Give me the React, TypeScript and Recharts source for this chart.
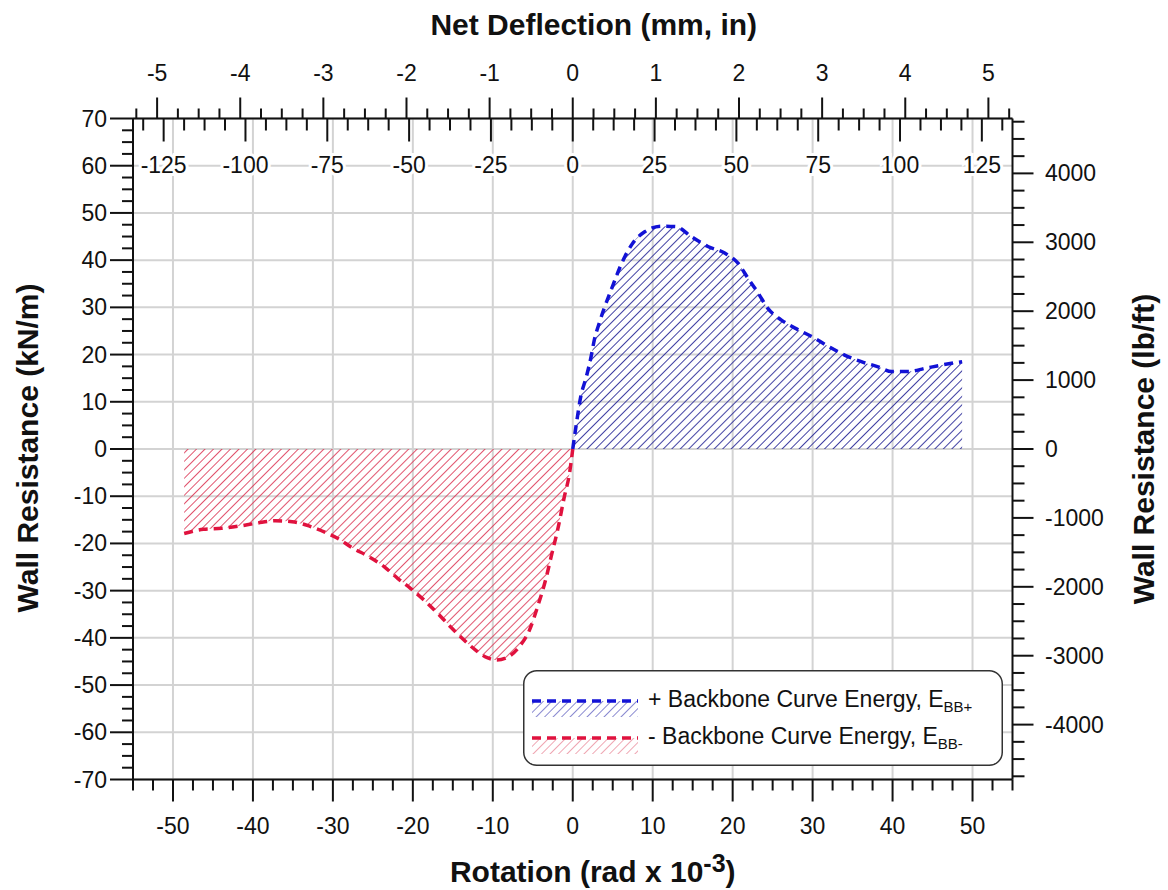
import React from "react";
import {
  ComposedChart,
  Area,
  XAxis,
  YAxis,
  CartesianGrid,
  Legend,
  Label,
} from "recharts";

// backbone curve, + side: rotation (rad x 10^-3) / wall resistance (kN/m)
const posRotation = [
  0, 0.4, 1.0, 1.7, 2.3, 2.7, 3.3, 4.0, 4.8, 6.3, 7.5, 9.0, 11.1, 12.9, 14.8,
  16.9, 19.0, 20.7, 21.9, 23.2, 24.4, 26.1, 27.8, 29.9, 32.0, 34.0, 36.1, 38.2,
  39.9, 42.0, 44.1, 46.2, 48.7,
];
const posResistance = [
  0, 4.7, 11.1, 15.3, 19.6, 23.1, 26.6, 30.1, 33.7, 40.0, 43.6, 46.0, 47.2,
  47.1, 45.0, 42.9, 41.5, 39.3, 36.2, 33.0, 29.8, 27.3, 25.6, 23.8, 21.7, 19.9,
  18.5, 17.4, 16.4, 16.4, 17.1, 17.8, 18.5,
];

// backbone curve, - side
const negRotation = [
  -48.6, -46.2, -43.9, -41.6, -39.5, -37.2, -35.1, -33.0, -30.9, -29.2, -27.6,
  -25.5, -23.6, -21.9, -20.3, -18.6, -16.9, -15.5, -14.0, -12.3, -10.7, -9.5,
  -8.4, -6.7, -5.4, -4.4, -3.3, -2.7, -1.9, -1.05, -0.4, 0,
];
const negResistance = [
  -17.9, -17.0, -16.8, -16.3, -15.7, -15.2, -15.4, -16.3, -17.7, -19.1, -20.9,
  -22.8, -24.9, -27.4, -29.5, -32.0, -34.8, -37.3, -39.8, -42.4, -44.2, -44.7,
  -44.3, -41.9, -38.3, -33.4, -27.1, -22.8, -17.2, -10.1, -5.1, 0,
];

const rotationLabels = [-50, -40, -30, -20, -10, 0, 10, 20, 30, 40, 50];
const resistanceLabels = [-70, -60, -50, -40, -30, -20, -10, 0, 10, 20, 30, 40, 50, 60, 70];
const lbftLabels = [-4000, -3000, -2000, -1000, 0, 1000, 2000, 3000, 4000];
const inchLabels = [-5, -4, -3, -2, -1, 0, 1, 2, 3, 4, 5];
const mmLabels = [-125, -100, -75, -50, -25, 0, 25, 50, 75, 100, 125];

const legendItems = [
  { name: "+ Backbone Curve Energy, E", sub: "BB+", line: "#1212d6", hatch: "hb-leg" },
  { name: "- Backbone Curve Energy, E", sub: "BB-", line: "#e0123e", hatch: "hr-leg" },
];

const KN_TO_LBFT = 68.5218;
const MM_PER_IN = 25.4;
const ROT_MAX = 55;
const KN_MAX = 70;
const IN_MAX = 5.29;

const INK = "#111";
const FONT = "'Liberation Sans', Arial, sans-serif";

const range = (a: number, b: number, step: number) =>
  Array.from({ length: Math.round((b - a) / step) + 1 }, (_, i) => +(a + i * step).toFixed(4));

const isMajor = (v: number, majors: number[]) => majors.some((m) => Math.abs(m - v) < 1e-6);

const rows = new Map<number, { rot: number; pos?: number; neg?: number }>();
negRotation.forEach((r, i) => rows.set(r, { ...(rows.get(r) ?? { rot: r }), neg: negResistance[i] }));
posRotation.forEach((r, i) => rows.set(r, { ...(rows.get(r) ?? { rot: r }), pos: posResistance[i] }));
const chartData = [...rows.values()].sort((a, b) => a.rot - b.rot);

const tickText = { fontFamily: FONT, fontSize: 23, fill: INK };

const BottomTick = ({ x = 0, y = 0, payload }: any) => {
  const v = payload.value;
  const major = isMajor(v, rotationLabels);
  return (
    <g>
      <line x1={x} x2={x} y1={y} y2={y + (major ? 22 : 11)} stroke={INK} strokeWidth={2} />
      {major && (
        <text x={x} y={y + 54} textAnchor="middle" {...tickText}>
          {v}
        </text>
      )}
    </g>
  );
};

const InchTick = ({ x = 0, y = 0, payload }: any) => {
  const v = payload.value;
  const major = isMajor(v, inchLabels);
  return (
    <g>
      <line x1={x} x2={x} y1={y} y2={y - (major ? 21 : 10)} stroke={INK} strokeWidth={2} />
      {major && (
        <text x={x} y={y - 38} textAnchor="middle" {...tickText}>
          {v}
        </text>
      )}
    </g>
  );
};

// mm ticks hang inside the plot, below the top axis line
const MmTick = ({ x = 0, y = 0, payload }: any) => {
  const v = payload.value;
  const major = isMajor(v, mmLabels);
  return (
    <g>
      <line x1={x} x2={x} y1={y} y2={y + (major ? 23 : 12)} stroke={INK} strokeWidth={2} />
      {major && (
        <text
          x={x}
          y={y + 54.5}
          textAnchor="middle"
          stroke="#fff"
          strokeWidth={6}
          paintOrder="stroke"
          {...tickText}
        >
          {v}
        </text>
      )}
    </g>
  );
};

const LeftTick = ({ x = 0, y = 0, payload }: any) => {
  const v = payload.value;
  const major = isMajor(v, resistanceLabels);
  return (
    <g>
      <line x1={x} x2={x - (major ? 23 : 11)} y1={y} y2={y} stroke={INK} strokeWidth={2} />
      {major && (
        <text x={x - 26} y={y + 8} textAnchor="end" {...tickText}>
          {v}
        </text>
      )}
    </g>
  );
};

const RightTick = ({ x = 0, y = 0, payload }: any) => {
  const v = payload.value;
  const major = isMajor(v, lbftLabels);
  return (
    <g>
      <line x1={x} x2={x + (major ? 21 : 12)} y1={y} y2={y} stroke={INK} strokeWidth={2} />
      {major && (
        <text x={x + 32.5} y={y + 8} textAnchor="start" {...tickText}>
          {v}
        </text>
      )}
    </g>
  );
};

const titleStyle = { fontFamily: FONT, fontSize: 30, fontWeight: 700, fill: INK };

const Hatch = ({ id, color, w = 1.7 }: { id: string; color: string; w?: number }) => (
  <pattern id={id} patternUnits="userSpaceOnUse" width={6} height={6} patternTransform="rotate(45)">
    <line x1={0} y1={0} x2={0} y2={6} stroke={color} strokeWidth={w} />
  </pattern>
);

const LegendBox = () => (
  <svg width={480} height={96} style={{ display: "block" }}>
    <defs>
      <Hatch id="hb-leg" color="#4a4ab8" w={1.3} />
      <Hatch id="hr-leg" color="#e6778a" w={1.3} />
    </defs>
    <rect x={0.75} y={0.75} width={478.5} height={94.5} rx={13} fill="#fff" stroke="#333" strokeWidth={1.5} />
    {legendItems.map((it, i) => {
      const top = 31 + i * 37;
      return (
        <g key={it.sub}>
          <rect x={9} y={top} width={106} height={16} fill={`url(#${it.hatch})`} />
          <line x1={9} x2={115} y1={top} y2={top} stroke={it.line} strokeWidth={3.5} strokeDasharray="9 6" />
          <text x={125} y={top + 6} fontFamily={FONT} fontSize={23} fill={INK}>
            {it.name}
            <tspan fontSize={15} dy={5}>
              {it.sub}
            </tspan>
          </text>
        </g>
      );
    })}
  </svg>
);

export default function App() {
  const rotTicks = range(-ROT_MAX, ROT_MAX, 2.5);
  const knTicks = range(-KN_MAX, KN_MAX, 2.5);
  const lbTicks = range(-4750, 4750, 250);
  const inTicks = range(-5.25, 5.25, 0.25);
  const mmTicks = range(-131.25, 131.25, 6.25);
  const lbMax = KN_MAX * KN_TO_LBFT;
  const mmMax = IN_MAX * MM_PER_IN;

  return (
    <div style={{ position: "absolute", left: 0, top: 0, background: "#fff" }}>
      <ComposedChart
        width={1168}
        height={890}
        data={chartData}
        margin={{ top: 0, right: 0, bottom: 0, left: 0 }}
      >
        <defs>
          <Hatch id="hatchBlue" color="#1e1e92" />
          <Hatch id="hatchRed" color="#dc3554" />
        </defs>
        <CartesianGrid
          xAxisId="rot"
          yAxisId="kn"
          verticalValues={rotationLabels}
          horizontalValues={resistanceLabels}
          stroke="#d3d3d3"
          strokeWidth={2}
        />
        <XAxis
          xAxisId="mm"
          dataKey="rot"
          orientation="top"
          mirror
          type="number"
          domain={[-mmMax, mmMax]}
          allowDataOverflow
          ticks={mmTicks}
          interval={0}
          height={60}
          tickSize={0}
          tickMargin={0}
          tickLine={false}
          axisLine={false}
          tick={MmTick}
        />
        <XAxis
          xAxisId="in"
          dataKey="rot"
          orientation="top"
          type="number"
          domain={[-IN_MAX, IN_MAX]}
          allowDataOverflow
          ticks={inTicks}
          interval={0}
          height={118.5}
          tickSize={0}
          tickMargin={0}
          tickLine={false}
          axisLine={{ stroke: INK, strokeWidth: 2 }}
          tick={InchTick}
        >
          <Label
            content={({ viewBox }: any) => (
              <text x={viewBox.x + viewBox.width / 2 + 21} y={viewBox.y + 35} textAnchor="middle" {...titleStyle}>
                Net Deflection (mm, in)
              </text>
            )}
          />
        </XAxis>
        <XAxis
          xAxisId="rot"
          dataKey="rot"
          orientation="bottom"
          type="number"
          domain={[-ROT_MAX, ROT_MAX]}
          allowDataOverflow
          ticks={rotTicks}
          interval={0}
          height={110.5}
          tickSize={0}
          tickMargin={0}
          tickLine={false}
          axisLine={{ stroke: INK, strokeWidth: 2 }}
          tick={BottomTick}
        >
          <Label
            content={({ viewBox }: any) => (
              <text x={viewBox.x + viewBox.width / 2 + 20} y={viewBox.y + 102} textAnchor="middle" {...titleStyle}>
                Rotation (rad x 10
                <tspan fontSize={25} dy={-10}>
                  -3
                </tspan>
                <tspan dy={10}>)</tspan>
              </text>
            )}
          />
        </XAxis>
        <YAxis
          yAxisId="kn"
          orientation="left"
          type="number"
          domain={[-KN_MAX, KN_MAX]}
          allowDataOverflow
          ticks={knTicks}
          interval={0}
          width={133}
          tickSize={0}
          tickMargin={0}
          tickLine={false}
          axisLine={{ stroke: INK, strokeWidth: 2 }}
          tick={LeftTick}
        >
          <Label
            content={({ viewBox }: any) => {
              const cx = viewBox.x + 38;
              const cy = viewBox.y + viewBox.height / 2 - 1;
              return (
                <text x={cx} y={cy} transform={`rotate(-90, ${cx}, ${cy})`} textAnchor="middle" {...titleStyle}>
                  Wall Resistance (kN/m)
                </text>
              );
            }}
          />
        </YAxis>
        <YAxis
          yAxisId="lb"
          orientation="right"
          type="number"
          domain={[-lbMax, lbMax]}
          allowDataOverflow
          ticks={lbTicks}
          interval={0}
          width={155.5}
          tickSize={0}
          tickMargin={0}
          tickLine={false}
          axisLine={{ stroke: INK, strokeWidth: 2 }}
          tick={RightTick}
        >
          <Label
            content={({ viewBox }: any) => {
              const cx = viewBox.x + 141;
              const cy = viewBox.y + viewBox.height / 2;
              return (
                <text x={cx} y={cy} transform={`rotate(-90, ${cx}, ${cy})`} textAnchor="middle" {...titleStyle}>
                  Wall Resistance (lb/ft)
                </text>
              );
            }}
          />
        </YAxis>
        <Area
          xAxisId="rot"
          yAxisId="kn"
          dataKey="neg"
          type="monotone"
          baseValue={0}
          stroke="#e0123e"
          strokeWidth={3.5}
          strokeDasharray="9 6"
          fill="url(#hatchRed)"
          fillOpacity={1}
          dot={false}
          activeDot={false}
          isAnimationActive={false}
        />
        <Area
          xAxisId="rot"
          yAxisId="kn"
          dataKey="pos"
          type="monotone"
          baseValue={0}
          stroke="#1212d6"
          strokeWidth={3.5}
          strokeDasharray="9 6"
          fill="url(#hatchBlue)"
          fillOpacity={1}
          dot={false}
          activeDot={false}
          isAnimationActive={false}
        />
        <Legend
          layout="vertical"
          align="center"
          verticalAlign="middle"
          content={() => <LegendBox />}
          wrapperStyle={{ position: "absolute", left: 523, top: 670, width: 480, height: 96 }}
        />
      </ComposedChart>
    </div>
  );
}
